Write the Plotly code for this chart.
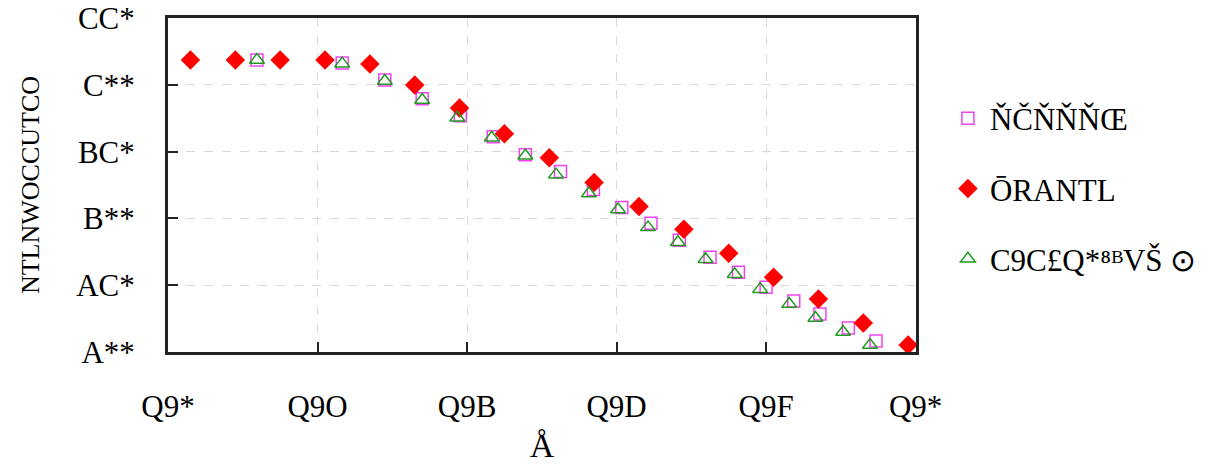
import plotly.graph_objects as go

# ---- data ----
x_diamond = [0.03, 0.09, 0.15, 0.21, 0.27, 0.33, 0.39, 0.45, 0.51, 0.57, 0.63, 0.69, 0.75, 0.81, 0.87, 0.93, 0.99]
y_diamond = [518.7, 518.7, 518.7, 518.7, 515.7, 500.0, 482.8, 463.4, 445.5, 426.9, 409.0, 391.8, 373.9, 356.0, 339.6, 321.6, 305.2]

x_square = [0.119, 0.233, 0.290, 0.340, 0.391, 0.435, 0.478, 0.525, 0.569, 0.607, 0.646, 0.684, 0.725, 0.763, 0.800, 0.837, 0.872, 0.910, 0.947]
y_square = [518.7, 516.4, 503.7, 489.6, 476.9, 461.2, 447.8, 435.1, 421.6, 408.2, 396.3, 383.6, 370.9, 359.7, 348.5, 338.1, 328.4, 317.9, 308.2]

x_triangle = [0.119, 0.233, 0.290, 0.340, 0.387, 0.433, 0.478, 0.519, 0.563, 0.602, 0.642, 0.682, 0.719, 0.758, 0.792, 0.831, 0.866, 0.903, 0.939]
y_triangle = [518.7, 516.0, 503.0, 488.8, 475.4, 460.4, 447.0, 432.8, 418.7, 406.7, 393.3, 382.1, 369.4, 358.2, 347.0, 335.8, 325.4, 314.9, 305.2]

x_tickvals = [0.0, 0.2, 0.4, 0.6, 0.8, 1.0]
x_ticktext = ["Q9*", "Q9O", "Q9B", "Q9D", "Q9F", "Q9*"]
y_tickvals = [300, 350, 400, 450, 500, 550]
y_ticktext = ["A**", "AC*", "B**", "BC*", "C**", "CC*"]

name_square = "ŇČŇŇŇŒ"
name_diamond = "ŌRANTL"
name_triangle = "C9C£Q*⁸ᴮVŠ ⊙"
x_title = "Å"
y_title = "NTLNWOCCUTCO"

FONT = "Liberation Serif"

fig = go.Figure()
fig.add_trace(go.Scatter(
    x=x_square, y=y_square, mode="markers", name=name_square, legendgroup="a",
    marker=dict(symbol="square-open", size=12, color="#ee44ee", line=dict(width=1.5)),
))
fig.add_trace(go.Scatter(
    x=x_diamond, y=y_diamond, mode="markers", name=name_diamond, legendgroup="b",
    marker=dict(symbol="diamond", size=15, color="#ff0000"),
))
fig.add_trace(go.Scatter(
    x=x_triangle, y=y_triangle, mode="markers", name=name_triangle, legendgroup="c",
    marker=dict(symbol="triangle-up-open", size=13, color="#229922", line=dict(width=1.5)),
))

axis_common = dict(
    showline=True, linecolor="#222222", linewidth=3, mirror=True,
    ticks="inside", ticklen=10, tickwidth=2, tickcolor="#222222",
    showgrid=True, gridcolor="#d9d9d9", griddash="dash", gridwidth=1,
    zeroline=False, tickfont=dict(family=FONT, size=31, color="black"),
    automargin=False, ticklabeloverflow="allow",
)

fig.update_layout(
    width=1214, height=464,
    margin=dict(l=168, r=295, t=18, b=112),
    paper_bgcolor="white", plot_bgcolor="white",
    xaxis=dict(range=[0, 1.0005], tickvals=x_tickvals, ticktext=x_ticktext,
               ticklabelstandoff=25,
               title=dict(text=x_title, font=dict(family=FONT, size=34, color="black"), standoff=10),
               **axis_common),
    yaxis=dict(range=[299.9, 550.2], tickvals=y_tickvals, ticktext=y_ticktext,
               ticklabelstandoff=24,
               title=dict(text=y_title, font=dict(family=FONT, size=26, color="black"), standoff=30),
               **axis_common),
    legend=dict(x=1.04, y=0.78, xanchor="left", yanchor="top",
                font=dict(family=FONT, size=31, color="black"),
                itemwidth=34, tracegroupgap=27, bgcolor="rgba(0,0,0,0)"),
    showlegend=True,
)

fig.write_html("out.html")
